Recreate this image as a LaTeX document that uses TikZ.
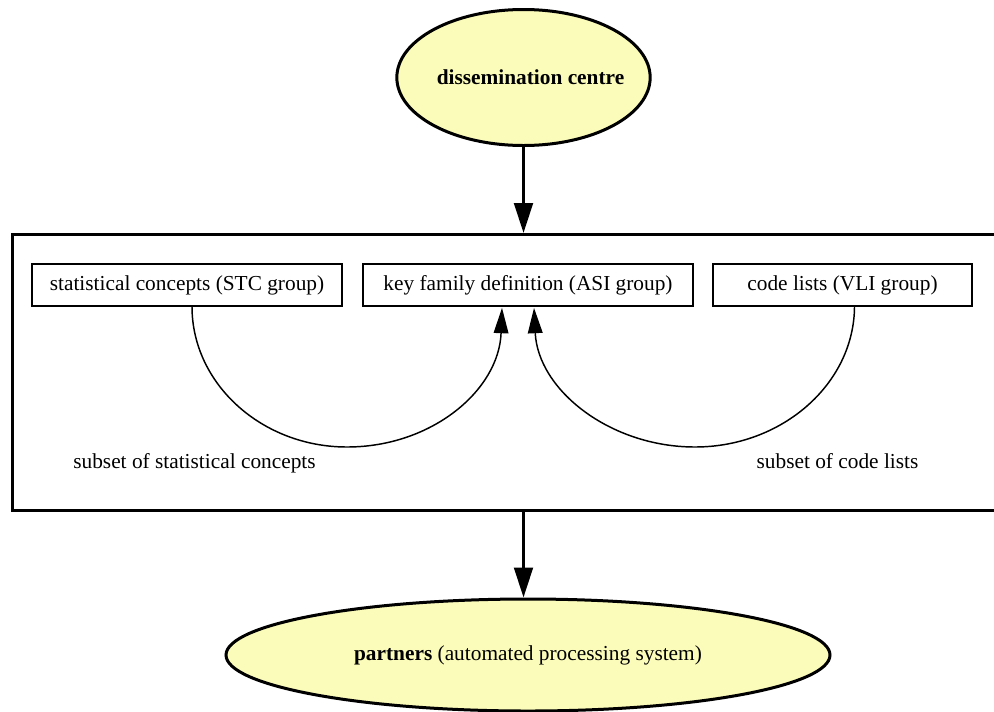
\documentclass[tikz,border=0pt]{standalone}
\usepackage{fontspec}
\setmainfont{Liberation Serif}
\usetikzlibrary{shapes.geometric,arrows.meta}
\definecolor{nodeyellow}{RGB}{251,251,186}
\tikzset{
  every node/.style={font=\fontsize{16}{19}\selectfont},
  bigell/.style={ellipse, draw, line width=2.25pt, fill=nodeyellow, inner sep=0pt},
  smallbox/.style={rectangle, draw, line width=0.8pt, minimum height=31.5pt, inner sep=0pt},
  cluster/.style={rectangle, draw, line width=2.25pt, inner sep=0pt},
  mainarrow/.style={line width=2.25pt, -{Triangle[length=22.5pt,width=14pt]}},
  subarrow/.style={line width=1.1pt, -{Triangle[length=19pt,width=11pt]}},
  lab/.style={inner sep=0pt, anchor=base}
}
\begin{document}
\begin{tikzpicture}[x=0.75pt,y=-0.75pt]
\useasboundingbox (0,0) rectangle (994,711);
\begin{scope}
\clip (0,0) rectangle (994,711);
\node[cluster, minimum width=748.5pt, minimum height=207pt] (cl) at (511,372.5) {};
\end{scope}
\node[bigell, minimum width=190pt, minimum height=102pt] (dc) at (523.5,77.5) {\makebox[0pt]{\hspace*{10.5pt}\bfseries dissemination centre}};
\node[bigell, minimum width=453pt, minimum height=84pt] (pt) at (528,655) {\textbf{partners} (automated processing system)};
\node[smallbox, minimum width=232.5pt] (stc) at (187,285) {statistical concepts (STC group)};
\node[smallbox, minimum width=247.5pt] (asi) at (528,285) {key family definition (ASI group)};
\node[smallbox, minimum width=194.25pt] (vli) at (842.5,285) {code lists (VLI group)};
\node[lab] (l1) at (194.5,468) {subset of statistical concepts};
\node[lab] (l2) at (837.5,468) {subset of code lists};
\draw[mainarrow] (dc.south) -- (dc.south |- cl.north);
\draw[mainarrow] (dc.south |- cl.south) -- (dc.south |- pt.north);
\draw[subarrow] ([xshift=3.75pt]stc.south) .. controls (192,384) and (262,447) .. (347,447)
  .. controls (432,447) and (499,390) .. ([xshift=-19.5pt,yshift=-1pt]asi.south);
\draw[subarrow] ([xshift=9pt]vli.south) .. controls (854,384) and (782,447) .. (695,447)
  .. controls (610,447) and (538,390) .. ([xshift=4.5pt,yshift=-1pt]asi.south);
\end{tikzpicture}
\end{document}
